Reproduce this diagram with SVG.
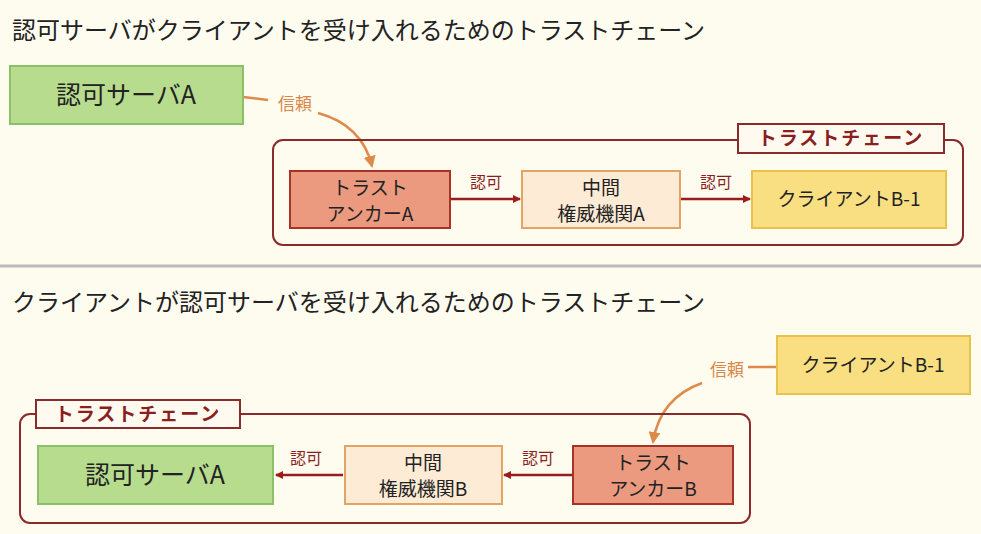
<svg xmlns="http://www.w3.org/2000/svg" width="981" height="534" viewBox="0 0 981 534">
<style>
text{font-family:"Noto Sans CJK JP","Liberation Serif",serif;fill:#222}
.t{font-size:24px}
.n{font-size:25px;text-anchor:middle}
.s{font-size:19px;text-anchor:middle}
.lbl{font-size:16px;fill:#8b1f1f;text-anchor:middle}
.tr{font-size:17px;fill:#d9874a;text-anchor:middle}
.frame{fill:none;stroke:#8b2a2a;stroke-width:2}
.arr{stroke:#9b1c1c;stroke-width:2.5;fill:none;marker-end:url(#ar)}
.tru{stroke:#de8a4a;stroke-width:2.5;fill:none}
.g{fill:#b8dc8e;stroke:#8cc068;stroke-width:2}
.r{fill:#eb9a80;stroke:#a83226;stroke-width:2}
.p{fill:#fdebd6;stroke:#e2a464;stroke-width:2}
.y{fill:#f9df82;stroke:#e8c24a;stroke-width:2}
.cl{fill:#fffaf0;stroke:#8b2a2a;stroke-width:2}
.clt{font-size:19px;fill:#8b1f1f;font-weight:bold;text-anchor:middle;letter-spacing:2px}
</style>
<defs>
<marker id="ar" markerWidth="8" markerHeight="8" refX="7" refY="4" orient="auto" markerUnits="userSpaceOnUse" viewBox="0 0 8 8"><path d="M0,0L8,4L0,8z" fill="#9b1c1c"/></marker>
<marker id="ao" markerWidth="12" markerHeight="12" refX="10" refY="6" orient="auto" markerUnits="userSpaceOnUse"><path d="M0,0L12,6L0,12z" fill="#de8a4a"/></marker>
</defs>
<rect width="981" height="534" fill="#fefbef"/>
<line x1="0" y1="266" x2="981" y2="266" stroke="#bbb" stroke-width="3"/>
<text class="t" x="12" y="39">認可サーバがクライアントを受け入れるためのトラストチェーン</text>
<text class="t" x="12" y="311">クライアントが認可サーバを受け入れるためのトラストチェーン</text>

<g id="connectors">
<path class="tru" d="M243,97 L268,100"/>
<path class="tru" d="M318,113 Q362,125 372,166" marker-end="url(#ao)"/>
<path class="arr" d="M450,199 L520,199"/>
<path class="arr" d="M680,199 L750,199"/>
<path class="tru" d="M748,367 L777,367"/>
<path class="tru" d="M702,383 Q660,398 653,442" marker-end="url(#ao)"/>
<path class="arr" d="M343,475 L276,475"/>
<path class="arr" d="M572,475 L504,475"/>
<text class="tr" x="295" y="110">信頼</text>
<text class="tr" x="727" y="376">信頼</text>
<text class="lbl" x="486" y="188">認可</text>
<text class="lbl" x="716" y="188">認可</text>
<text class="lbl" x="306" y="464">認可</text>
<text class="lbl" x="538" y="464">認可</text>
</g>

<g id="chainA">
<rect class="frame" x="273" y="140" width="690" height="105" rx="10"/>
<rect class="cl" x="738" y="124" width="206" height="29"/>
<text class="clt" x="841" y="145">トラストチェーン</text>
</g>
<g id="chainB">
<rect class="frame" x="20" y="414" width="730" height="109" rx="10"/>
<rect class="cl" x="36" y="400" width="204" height="28"/>
<text class="clt" x="138" y="421">トラストチェーン</text>
</g>

<g id="authA"><rect class="g" x="10" y="66" width="233" height="58"/><text class="n" x="126" y="104">認可サーバA</text></g>
<g id="anchorA"><rect class="r" x="290" y="171" width="160" height="57"/><text class="s" x="370" y="195">トラスト</text><text class="s" x="370" y="221">アンカーA</text></g>
<g id="midA"><rect class="p" x="522" y="171" width="158" height="57"/><text class="s" x="601" y="195">中間</text><text class="s" x="601" y="221">権威機関A</text></g>
<g id="clientA"><rect class="y" x="752" y="171" width="194" height="57"/><text class="s" x="849" y="206">クライアントB-1</text></g>

<g id="clientB"><rect class="y" x="777" y="336" width="193" height="58"/><text class="s" x="873" y="372">クライアントB-1</text></g>
<g id="authB"><rect class="g" x="38" y="446" width="235" height="58"/><text class="n" x="155" y="484">認可サーバA</text></g>
<g id="midB"><rect class="p" x="345" y="446" width="157" height="58"/><text class="s" x="423" y="470">中間</text><text class="s" x="423" y="496">権威機関B</text></g>
<g id="anchorB"><rect class="r" x="573" y="446" width="160" height="58"/><text class="s" x="653" y="470">トラスト</text><text class="s" x="653" y="496">アンカーB</text></g>
</svg>
